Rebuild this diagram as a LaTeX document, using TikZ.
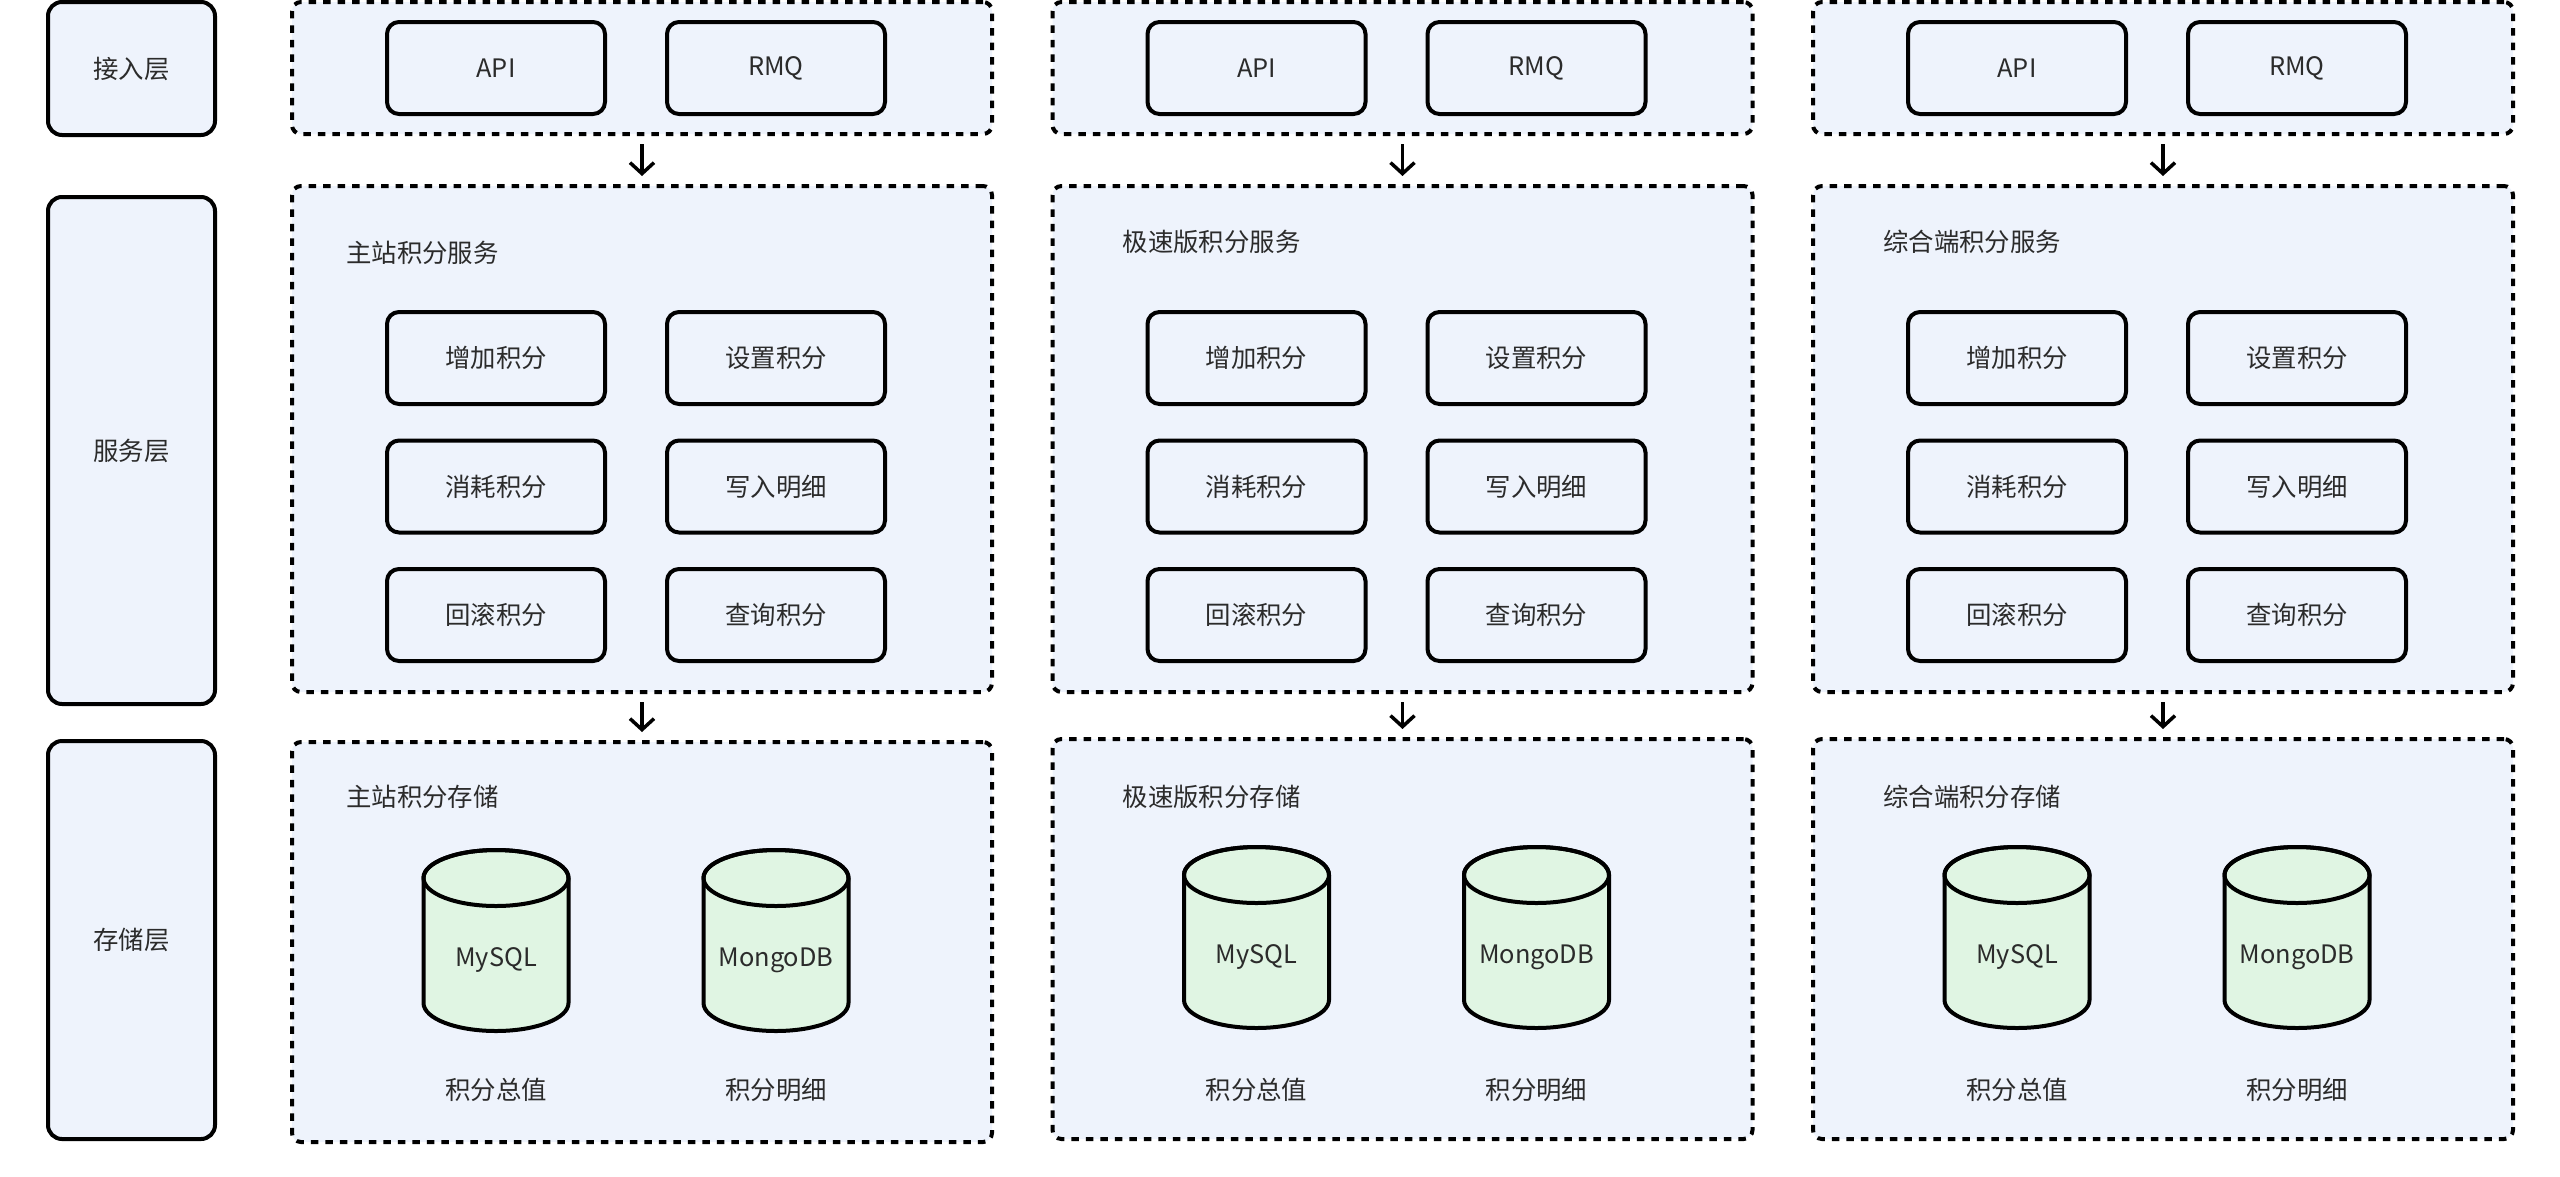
\documentclass[tikz,border=0pt]{standalone}
\usepackage{fontspec}
\setmainfont{Noto Sans CJK SC}
\usetikzlibrary{arrows.meta}
\definecolor{boxfill}{HTML}{EEF3FC}
\definecolor{dbfill}{HTML}{E0F5E3}
\definecolor{txtc}{HTML}{2B2B2B}
\newcommand\dbcyl[4]{%
  \draw[cyl] ({#2-72.5},{#3+28}) -- ({#2-72.5},{#3+153})
    arc[start angle=180,end angle=0,x radius=72.5,y radius=28]
    -- ({#2+72.5},{#3+28})
    arc[start angle=0,end angle=-180,x radius=72.5,y radius=28] -- cycle;
  \draw[cyl, fill=none] ({#2},{#3+28}) ellipse[x radius=72.5, y radius=28];
  \node[inner sep=0] (#1) at ({#2},{#3+110}) {#4};
}
% #1 id, #2 cx, #3 svc title, #4 sto title, #5 title y (svc), #6 title x-offset, #7 sto top, #8 cyl top
\newcommand\pcol[8]{%
  \node[grp, minimum height=132pt] (acc#1) at (#2,68) {};
  \node[fbox] (api#1) at ({#2-146},68) {API};
  \node[fbox] (rmq#1) at ({#2+134},68) {RMQ};
  \node[grp, minimum height=506pt] (svc#1) at (#2,439) {};
  \node[lbl] (svct#1) at ({#2-350+#6},#5) {#3};
  \node[fbox] (add#1) at ({#2-146},358) {增加积分};
  \node[fbox] (set#1) at ({#2+134},358) {设置积分};
  \node[fbox] (use#1) at ({#2-146},486.5) {消耗积分};
  \node[fbox] (wri#1) at ({#2+134},486.5) {写入明细};
  \node[fbox] (rol#1) at ({#2-146},615) {回滚积分};
  \node[fbox] (qry#1) at ({#2+134},615) {查询积分};
  \node[grp, minimum height=400pt, anchor=north] (sto#1) at (#2,#7) {};
  \node[lbl] (stot#1) at ({#2-350+#6},797) {#4};
  \dbcyl{my#1}{#2-146}{#8}{MySQL}
  \dbcyl{mg#1}{#2+134}{#8}{MongoDB}
  \node[inner sep=0] (myl#1) at ({#2-146},1090) {积分总值};
  \node[inner sep=0] (mgl#1) at ({#2+134},1090) {积分明细};
  \draw[arr] (acc#1.south) -- (svc#1.north);
  \draw[arr] (svc#1.south) -- (sto#1.north);
}
\begin{document}
\begin{tikzpicture}[x=1pt,y=-1pt,
  font=\fontsize{25.4}{30}\selectfont, text=txtc,
  layerbox/.style={draw=black, line width=4pt, fill=boxfill, rounded corners=14pt,
    minimum width=167pt, inner sep=0},
  grp/.style={draw=black, line width=4pt, dash pattern=on 7.5pt off 7pt, fill=boxfill,
    rounded corners=9pt, minimum width=700pt, inner sep=0},
  fbox/.style={draw=black, line width=4pt, fill=boxfill, rounded corners=12pt,
    minimum width=218pt, minimum height=92pt, inner sep=0},
  lbl/.style={inner sep=0, anchor=west},
  arr/.style={draw=black, line width=3.5pt, -{Straight Barb[length=11pt,width=24pt]},
    shorten <=8pt, shorten >=8pt},
  cyl/.style={draw=black, line width=4pt, fill=dbfill}
]
\path[use as bounding box] (0,0) rectangle (2560,1176);
\node[layerbox, minimum height=133pt] (L1) at (131.5,68.5) {接入层};
\node[layerbox, minimum height=507pt] (L2) at (131.5,450.5) {服务层};
\node[layerbox, minimum height=398pt] (L3) at (131.5,940) {存储层};
\pcol{1}{642}{主站积分服务}{主站积分存储}{253}{54}{740}{850}
\pcol{2}{1402.5}{极速版积分服务}{极速版积分存储}{242}{70}{737}{847}
\pcol{3}{2163}{综合端积分服务}{综合端积分存储}{242}{70}{737}{847}
\end{tikzpicture}
\end{document}
